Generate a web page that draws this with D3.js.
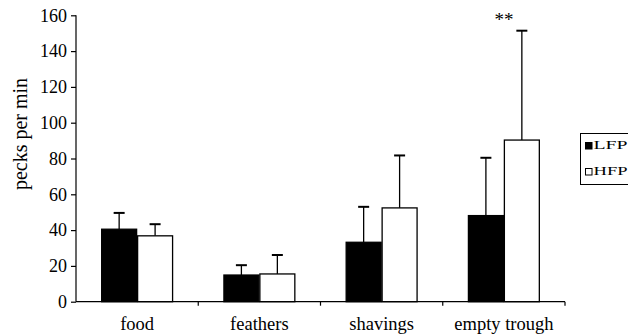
<!DOCTYPE html>
<html><head><meta charset="utf-8">
<script src="https://cdn.jsdelivr.net/npm/d3@7"></script>
<style>body{margin:0;background:#fff}svg{display:block}</style>
</head><body><svg id="c" width="628" height="336" font-family="Liberation Serif"></svg>
<script>
const categories = ["food","feathers","shavings","empty trough"];
const seriesNames = ["LFP","HFP"];
const lfpMeans = [40.5, 14.9, 33.2, 48.1];
const lfpErrTop = [49.6, 20.4, 53.0, 80.4];
const hfpMeans = [36.8, 15.5, 52.4, 90.3];
const hfpErrTop = [43.3, 26.1, 81.7, 151.4];
const yTicks = [0,20,40,60,80,100,120,140,160];
const annotations = [{cat:"empty trough", text:"**", value:160}];

const FONT = "Liberation Serif";
const svg = d3.select("#c");
const m = {l:76, r:565, t:15.3, b:301.7};
const x = d3.scaleBand().domain(categories).range([m.l, m.r]);
const xs = d3.scaleBand().domain(seriesNames).range([0, x.bandwidth()]).paddingOuter(0.7).paddingInner(0);
const y = d3.scaleLinear().domain([0,160]).range([m.b, m.t]);

const data = [];
categories.forEach((c,i)=>{
  data.push({c, s:"LFP", v:lfpMeans[i], e:lfpErrTop[i]});
  data.push({c, s:"HFP", v:hfpMeans[i], e:hfpErrTop[i]});
});
const fill = {LFP:"#000", HFP:"#fff"};

// error bars
const eg = svg.append("g");
data.forEach(d=>{
  const cx = x(d.c)+xs(d.s)+xs.bandwidth()/2;
  eg.append("line").attr("x1",cx).attr("x2",cx).attr("y1",y(d.v)).attr("y2",y(d.e)).attr("stroke","#000").attr("stroke-width",1.3);
  eg.append("line").attr("x1",cx-5.5).attr("x2",cx+5.5).attr("y1",y(d.e)).attr("y2",y(d.e)).attr("stroke","#000").attr("stroke-width",2);
});
// bars
svg.append("g").selectAll("rect").data(data).join("rect")
  .attr("x",d=>x(d.c)+xs(d.s)+0.5).attr("width",xs.bandwidth()-1)
  .attr("y",d=>y(d.v)).attr("height",d=>y(0)-y(d.v))
  .attr("fill",d=>fill[d.s]).attr("stroke","#000").attr("stroke-width",1.3);

// y axis
const ya = svg.append("g").attr("transform",`translate(${m.l},0)`)
  .call(d3.axisLeft(y).tickValues(yTicks).tickSize(5).tickPadding(4));
ya.attr("font-family",FONT).attr("font-size",18);
ya.selectAll("text").attr("font-family",FONT).attr("font-size",18).attr("fill","#000");
ya.selectAll("line,path").attr("stroke","#000").attr("stroke-width",1.2);
ya.select(".domain").attr("d",`M0,${m.t}V${m.b}`);

// x axis
const xa = svg.append("g").attr("transform",`translate(0,${m.b})`);
xa.append("line").attr("x1",m.l).attr("x2",m.r).attr("stroke","#000").attr("stroke-width",1.2);
const bounds = categories.map(c=>x(c)).slice(1).concat([m.r]);
xa.selectAll("line.t").data(bounds).join("line").attr("class","t")
  .attr("x1",d=>d).attr("x2",d=>d).attr("y1",0).attr("y2",4).attr("stroke","#000").attr("stroke-width",1.2);
xa.selectAll("text").data(categories).join("text")
  .attr("x",d=>x(d)+x.bandwidth()/2).attr("y",28.5).attr("text-anchor","middle")
  .attr("font-family",FONT).attr("font-size",18.5).text(d=>d);

// y label
svg.append("text").attr("transform",`translate(27,134) rotate(-90)`)
  .attr("text-anchor","middle").attr("font-family",FONT).attr("font-size",20).text("pecks per min");

// annotations
annotations.forEach(a=>{
  svg.append("text").attr("x",x(a.cat)+x.bandwidth()/2).attr("y",y(a.value)+11)
    .attr("text-anchor","middle").attr("font-family",FONT).attr("font-size",19).text(a.text);
});

// legend
const lg = svg.append("g").attr("transform","translate(580.5,133.5)");
lg.append("rect").attr("width",60).attr("height",51).attr("fill","#fff").attr("stroke","#000").attr("stroke-width",1);
seriesNames.forEach((s,i)=>{
  lg.append("rect").attr("x",5).attr("y",9+i*26).attr("width",6.5).attr("height",6.5)
    .attr("fill",fill[s]).attr("stroke","#000").attr("stroke-width",1);
  lg.append("text").attr("x",13).attr("y",15.5+i*26).attr("font-family",FONT).attr("font-size",12)
    .attr("textLength",34).attr("lengthAdjust","spacingAndGlyphs").text(s);
});
</script></body></html>
